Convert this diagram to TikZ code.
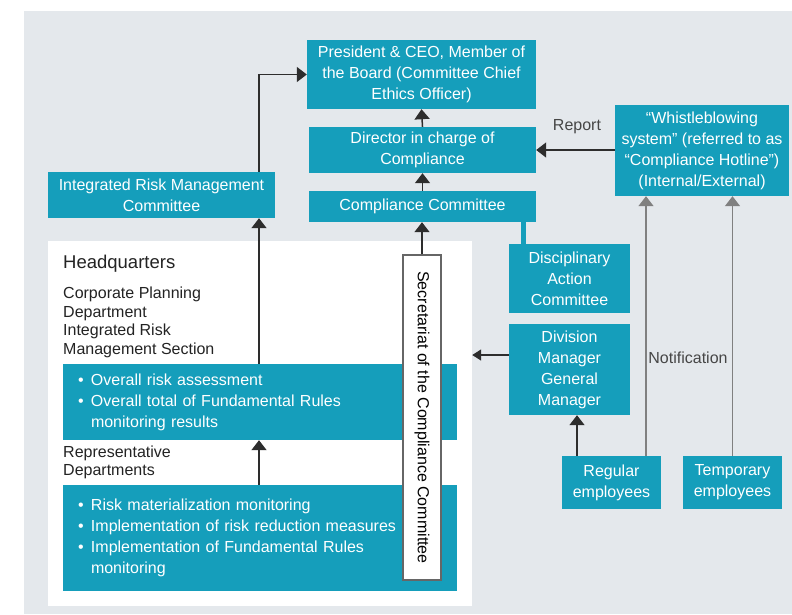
\documentclass[tikz,border=0pt]{standalone}
\usepackage{fontspec}
\usepackage{graphicx}
\setmainfont{Liberation Sans}
\usetikzlibrary{arrows.meta}

\definecolor{boxteal}{RGB}{21,158,187}
\definecolor{panelgray}{RGB}{228,232,236}
\definecolor{linedark}{RGB}{45,45,45}
\definecolor{linegray}{RGB}{128,128,128}
\definecolor{labelgray}{RGB}{70,70,70}
\definecolor{hqtext}{RGB}{35,35,35}

% bullet line with hanging indent
\newcommand{\bulletline}[1]{\makebox[13pt][l]{\textbullet}#1}
\newcommand{\hangline}[1]{\hspace*{13pt}#1}

\begin{document}
\begin{tikzpicture}[x=1pt, y=-1pt,
    every node/.style={font=\fontsize{16}{21}\selectfont},
    tealbox/.style n args={2}{
        fill=boxteal,
        text=white,
        align=center,
        inner sep=0pt,
        minimum width=#1pt,
        minimum height=#2pt
    },
    bandbox/.style={
        fill=boxteal,
        text=white,
        align=left,
        inner xsep=15pt,
        inner ysep=0pt,
        text width=364pt,
        minimum height=#1pt
    },
    hqlabel/.style={
        text=hqtext,
        align=left,
        inner sep=0pt,
        anchor=west,
        font=\fontsize{16}{18.7}\selectfont
    },
    arr/.style={draw=linedark, line width=1.5pt, -{Triangle[width=15pt,length=10pt]}},
    grayarr/.style={draw=linegray, line width=1.5pt, -{Triangle[width=15pt,length=10pt]}}
]
\useasboundingbox (0,0) rectangle (792,614);

% ---------- background panel ----------
\fill[panelgray] (24,11) rectangle (792,614);

% ---------- headquarters area ----------
\node[fill=white, inner sep=0pt, minimum width=424pt, minimum height=365pt] (hq) at (260,423.5) {};

\node[hqlabel, font=\fontsize{18.5}{22}\selectfont] (hqtitle) at (63,264) {Headquarters};
\node[hqlabel] (corpdept) at (63,322.5) {Corporate Planning\\Department\\Integrated Risk\\Management Section};
\node[hqlabel] (repdept) at (63,462.5) {Representative\\Departments};

\node[bandbox=76] (band1) at (260,402) {%
    \bulletline{Overall risk assessment}\\
    \bulletline{Overall total of Fundamental Rules}\\
    \hangline{monitoring results}};
\node[bandbox=106] (band2) at (260,538) {%
    \bulletline{Risk materialization monitoring}\\
    \bulletline{Implementation of risk reduction measures}\\
    \bulletline{Implementation of Fundamental Rules}\\
    \hangline{monitoring}};

% secretariat (vertical text)
\node[fill=white, draw=gray!80!black, line width=1.2pt, inner sep=0pt,
      minimum width=38pt, minimum height=325pt] (sec) at (422,417.5)
      {\rotatebox{-90}{Secretariat of the Compliance Committee}};

% ---------- committees and officers ----------
\node[tealbox={229}{69}] (pres) at (421.5,74.5) {President \& CEO, Member of\\the Board (Committee Chief\\Ethics Officer)};
\node[tealbox={227}{46}] (dir) at (422.5,150) {Director in charge of\\Compliance};
\node[tealbox={227}{31}] (cc) at (422.5,206.5) {Compliance Committee};
\node[tealbox={227}{46}] (irmc) at (161.5,195) {Integrated Risk Management\\Committee};
\node[tealbox={174}{91}] (whistle) at (702,150.5) {“Whistleblowing\\system” (referred to as\\“Compliance Hotline”)\\(Internal/External)};
\node[tealbox={121}{69}] (disc) at (569.5,278.5) {Disciplinary\\Action\\Committee};
\node[tealbox={121}{91}] (div) at (569.5,369.5) {Division\\Manager\\General\\Manager};
\node[tealbox={99}{53}] (regular) at (611.5,482.5) {Regular\\employees};
\node[tealbox={99}{53}] (temp) at (732.5,482.5) {Temporary\\employees};

% ---------- connector positions ----------
\coordinate (riskx) at (259,0);
\coordinate (discx) at (523,0);
\coordinate (regx) at (577,0);
\coordinate (notex) at (646,0);
\coordinate (divout) at (509,355);

% ---------- connectors ----------
\draw[arr] (band2.north -| riskx) -- (band1.south -| riskx);
\draw[arr] (band1.north -| riskx) -- (irmc.south -| riskx);
\draw[arr] (irmc.north -| riskx) |- (pres.west);
\draw[arr] (dir.north) -- (pres.south);
\draw[arr] (cc.north) -- (dir.south);
\draw[arr] (sec.north) -- (cc.south -| sec.north);
\draw[boxteal, line width=5pt] (cc.south -| discx) -- (disc.north -| discx);
\draw[arr] (whistle.west |- dir.east) -- (dir.east);
\draw[arr, -{Triangle[width=11pt,length=9pt]}] (divout) -- (divout -| hq.east);
\draw[arr] (regular.north -| regx) -- (div.south -| regx);
\draw[grayarr] (regular.north -| notex) -- (whistle.south -| notex);
\draw[grayarr] (temp.north) -- (whistle.south -| temp.north);

% ---------- labels ----------
\node[text=labelgray] (reportlbl) at (577,127) {Report};
\node[text=labelgray] (notelbl) at (688,358) {Notification};

\end{tikzpicture}
\end{document}
